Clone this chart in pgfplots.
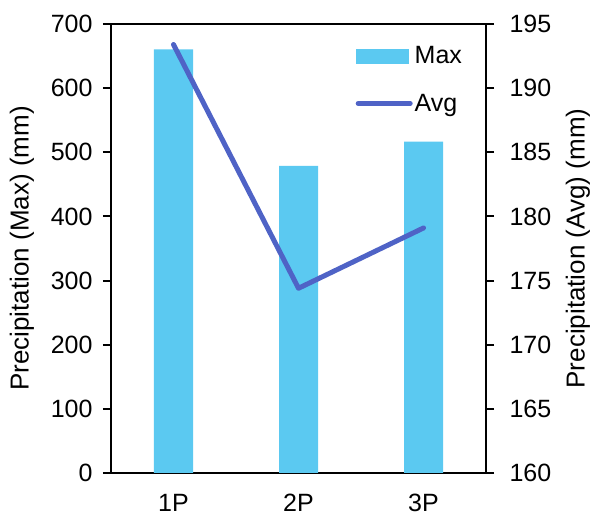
\documentclass[border=0pt]{standalone}
\usepackage{pgfplots}
\pgfplotsset{compat=1.18}
\usepackage{fontspec}
\setmainfont{Liberation Sans}
\definecolor{barc}{HTML}{5BC9F1}
\definecolor{linec}{HTML}{4F63C6}
\begin{document}
\begin{tikzpicture}
\pgfplotsset{
  base/.style={
    scale only axis, width=375pt, height=449pt,
    xmin=-0.5, xmax=2.5,
    font=\fontsize{25}{30}\selectfont,
    /pgf/number format/assume math mode=true,
    tick align=outside,
    major tick length=8pt,
    axis line style={line width=2pt, black},
    every tick/.style={line width=2pt, black},
    clip=false,
  }
}
\begin{axis}[base,
  ymin=0, ymax=700,
  ytick={0,100,...,700},
  xtick={0,1,2}, xticklabels={1P,2P,3P},
  xtick pos=bottom, ytick pos=left,
  x tick style={draw=none},
  xticklabel style={yshift=-10pt},
  yticklabel style={xshift=-7pt},
  ylabel={Precipitation (Max) (mm)},
  ylabel style={at={(axis description cs:-0.2373,0.5)}, anchor=center, font=\fontsize{26}{30}\selectfont},
]
\addplot[ybar, bar width=39pt, fill=barc, draw=none] coordinates {(0,660.5) (1,479) (2,516.5)};
\end{axis}
\begin{axis}[base,
  ymin=160, ymax=195,
  ytick={160,165,...,195},
  axis x line=none,
  axis y line*=right,
  yticklabel style={xshift=12pt},
  ylabel={Precipitation (Avg) (mm)},
  ylabel style={at={(axis description cs:1.2453,0.5)}, anchor=center, font=\fontsize{26}{30}\selectfont},
  legend style={at={(axis description cs:0.652,0.955)}, anchor=north west, draw=none, fill=none,
    font=\fontsize{25}{30}\selectfont, row sep=25pt, inner sep=0pt,
    nodes={inner sep=2pt}},
  legend cell align=left,
]
\addlegendimage{legend image code/.code={\fill[barc] (0pt,-7pt) rectangle (52pt,7pt);}}
\addlegendentry{Max}
\addplot[linec, line width=5pt, line cap=round, line join=round,
  legend image code/.code={\draw[linec, line width=5pt, line cap=round] (2pt,0pt) -- (54pt,0pt);}]
  coordinates {(0,193.4) (1,174.4) (2,179.1)};
\addlegendentry{Avg}
\end{axis}
\pgfresetboundingbox
\path (-111pt,-43pt) rectangle (480pt,473pt);
\end{tikzpicture}
\end{document}
